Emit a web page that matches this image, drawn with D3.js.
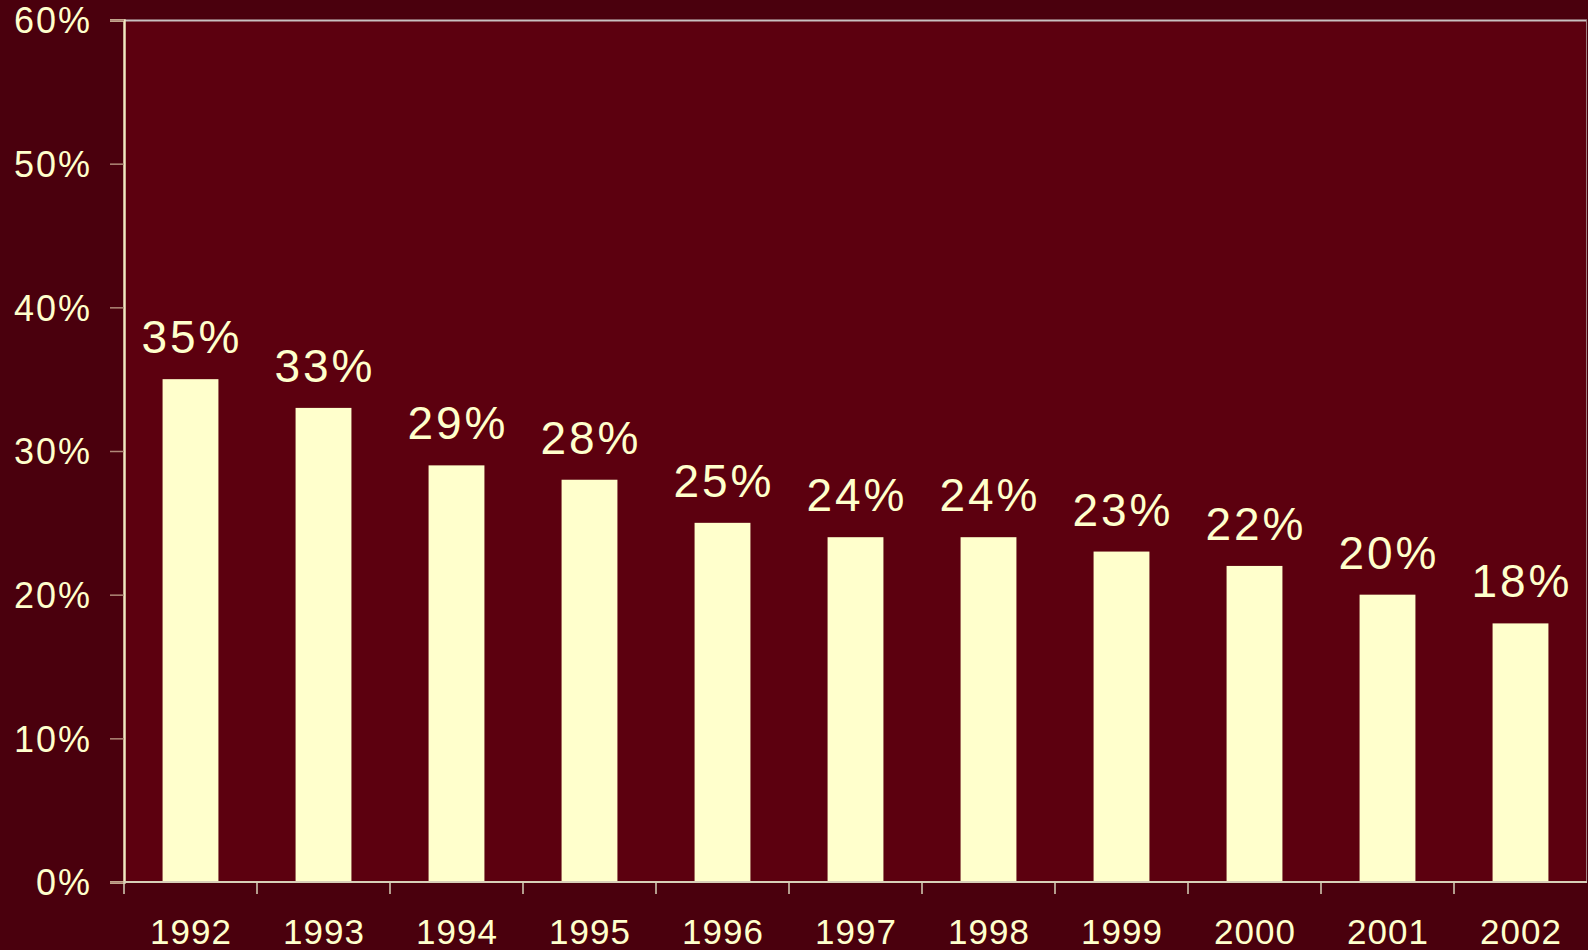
<!DOCTYPE html>
<html>
<head>
<meta charset="utf-8">
<script src="https://cdn.jsdelivr.net/npm/d3@7"></script>
<style>
  html, body { margin: 0; padding: 0; background: #4a000d; overflow: hidden; }
  svg { display: block; }
  text { font-family: "Liberation Sans", Arial, sans-serif; fill: #ffffcc; }
</style>
</head>
<body>
<svg id="chart" width="1588" height="950"></svg>
<script>
// Share by year (percent)
const years = ["1992", "1993", "1994", "1995", "1996", "1997", "1998", "1999", "2000", "2001", "2002"];
const shares = [35, 33, 29, 28, 25, 24, 24, 23, 22, 20, 18];
const yTicks = [0, 10, 20, 30, 40, 50, 60];

const W = 1588, H = 950;
const margin = { top: 20, right: 1, bottom: 68, left: 124 };
const innerW = W - margin.left - margin.right;
const innerH = H - margin.top - margin.bottom;

const svg = d3.select("#chart");
svg.append("rect").attr("width", W).attr("height", H).attr("fill", "#4a000d");

const g = svg.append("g").attr("transform", `translate(${margin.left},${margin.top})`);

const x = d3.scaleBand().domain(years).range([0, innerW]).paddingInner(0.58).paddingOuter(0.29);
const y = d3.scaleLinear().domain([0, 60]).range([innerH, 0]);

// plot area
g.append("rect")
  .attr("width", innerW).attr("height", innerH)
  .attr("fill", "#5c000f");

// top and right frame
g.append("line").attr("x1", 0).attr("x2", innerW).attr("y1", 0.5).attr("y2", 0.5)
  .attr("stroke", "#c8c0c0").attr("stroke-width", 2);
g.append("line").attr("x1", innerW - 0.5).attr("x2", innerW - 0.5).attr("y1", 0).attr("y2", innerH)
  .attr("stroke", "#a08080").attr("stroke-width", 1);

// bars
g.selectAll("rect.bar").data(years).join("rect")
  .attr("class", "bar")
  .attr("x", d => x(d))
  .attr("width", x.bandwidth())
  .attr("y", (d, i) => y(shares[i]))
  .attr("height", (d, i) => innerH - y(shares[i]))
  .attr("fill", "#ffffcc");

// value labels
const valSpacing = 3;
g.selectAll("text.val").data(years).join("text")
  .attr("class", "val")
  .attr("x", d => x(d) + x.bandwidth() / 2 + valSpacing / 2)
  .attr("y", (d, i) => y(shares[i]) - 26)
  .attr("text-anchor", "middle")
  .style("font-size", "46px")
  .style("letter-spacing", valSpacing + "px")
  .text((d, i) => shares[i] + "%");

// y axis
const yAxis = d3.axisLeft(y).tickValues(yTicks).tickFormat(d => d + "%").tickSize(14).tickPadding(18);
const ya = g.append("g").call(yAxis);
ya.select(".domain").attr("stroke", "#f0e8c0").attr("stroke-width", 2.5);
ya.selectAll(".tick line").attr("stroke", "#b08878").attr("stroke-width", 1.5);
ya.selectAll(".tick text")
  .style("font-size", "36px")
  .style("letter-spacing", "2px")
  .attr("dy", "0.36em")
  .attr("fill", "#ffffcc");

// x axis with ticks at band boundaries
const xa = g.append("g").attr("transform", `translate(0,${innerH})`);
xa.append("line").attr("x1", 0).attr("x2", innerW).attr("y1", 0).attr("y2", 0)
  .attr("stroke", "#d8d0b8").attr("stroke-width", 2);
const step = x.step();
const boundaries = d3.range(years.length).map(i => x(years[i]) - x.paddingOuter() * step);
xa.selectAll("line.tk").data(boundaries).join("line")
  .attr("class", "tk")
  .attr("x1", d => d).attr("x2", d => d)
  .attr("y1", 0).attr("y2", 12)
  .attr("stroke", "#d8d0b8").attr("stroke-width", 1.5);
xa.selectAll("text.lab").data(years).join("text")
  .attr("class", "lab")
  .attr("x", d => x(d) + x.bandwidth() / 2 + 0.5)
  .attr("y", 62)
  .attr("text-anchor", "middle")
  .style("font-size", "35px")
  .style("letter-spacing", "1px")
  .text(d => d);
</script>
</body>
</html>
